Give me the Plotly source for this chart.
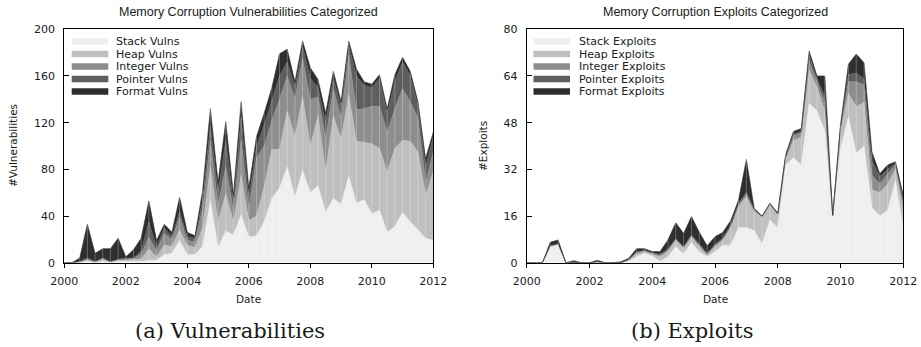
import plotly.graph_objects as go

# Quarterly time axis, 2000.00 .. 2012.00
quarters = [2000 + 0.25 * i for i in range(49)]

# Memory corruption vulnerabilities per quarter, by category
vuln_stack = [0, 0, 0, 1, 0, 1, 0, 1, 1, 1, 1, 2, 2, 7, 8, 19, 7, 7, 14, 53, 13, 27, 24, 41, 22,
              23, 35, 55, 64, 82, 56, 79, 60, 66, 43, 55, 50, 74, 51, 54, 42, 45, 26, 31, 43, 35, 28, 21, 19]
vuln_heap = [0, 0, 1, 2, 1, 2, 1, 1, 1, 2, 2, 10, 3, 8, 6, 9, 8, 6, 16, 29, 22, 32, 11, 34, 14,
             17, 30, 42, 33, 48, 52, 63, 40, 60, 35, 71, 56, 70, 53, 49, 60, 53, 52, 67, 62, 69, 67, 37, 59]
vuln_integer = [0, 0, 0, 0, 0, 1, 0, 1, 1, 1, 4, 10, 5, 10, 6, 11, 4, 5, 16, 22, 14, 23, 10, 30, 10,
                50, 35, 25, 43, 30, 32, 33, 40, 16, 28, 23, 18, 34, 27, 29, 32, 36, 34, 34, 44, 34, 29, 11, 17]
vuln_pointer = [0, 0, 0, 1, 0, 0, 0, 0, 1, 0, 3, 13, 3, 5, 2, 5, 3, 3, 8, 14, 11, 23, 7, 20, 9,
                10, 18, 16, 20, 12, 10, 10, 18, 8, 14, 9, 10, 8, 29, 20, 16, 24, 16, 23, 23, 22, 11, 13, 13]
vuln_format = [0, 0, 3, 29, 7, 8, 11, 18, 1, 7, 11, 18, 6, 3, 4, 12, 4, 2, 8, 14, 9, 16, 6, 13, 9,
               8, 10, 12, 19, 11, 5, 5, 9, 7, 8, 6, 4, 4, 6, 3, 3, 3, 4, 6, 4, 4, 3, 7, 4]

# Memory corruption exploits per quarter, by category
expl_stack = [0, 0, 0, 5.5, 6, 0, 0, 0, 0, 0, 0, 0, 0, 0.5, 2, 3.2, 2.3, 0.5, 2, 5.5, 3, 6.9, 3.8, 2, 3.8,
              6, 6, 12, 12, 11, 6.4, 14.6, 12, 33.5, 36, 33.5, 54.6, 52, 45, 15.5, 39, 50, 37.5, 40, 19, 16, 18, 28, 12]
expl_heap = [0, 0, 0, 0.3, 0.5, 0, 0, 0, 0, 0.3, 0, 0, 0, 0.4, 1, 0.6, 0.7, 1.5, 1.8, 2.3, 2, 2, 1.7, 0.6, 1.7,
             1.8, 6, 7.4, 10.6, 6.6, 9.2, 5.2, 4.4, 1.5, 6, 9.5, 11.4, 8, 7, 0.5, 6, 8, 16, 15, 6, 8, 9, 4, 6]
expl_integer = [0, 0, 0, 0, 0, 0, 0, 0, 0, 0, 0, 0, 0, 0.1, 0.5, 0.3, 0.2, 0.5, 0.5, 0.2, 0.3, 0.3, 0.5, 0.3, 0.5,
                0.3, 0.5, 0.5, 0.8, 0.3, 0.2, 0.2, 0.2, 1, 1.5, 1.5, 3, 2, 3, 0.1, 1, 4, 8.5, 6, 5, 3, 3.5, 1.5, 2]
expl_pointer = [0, 0, 0, 0, 0, 0, 0, 0, 0, 0, 0, 0, 0, 0.1, 0.2, 0.2, 0.2, 0.3, 0.5, 0.2, 0.2, 0.3, 0.3, 0.3, 0.3,
                0.3, 0.5, 0.4, 0.8, 0.3, 0.1, 0.2, 0.2, 0.5, 0.5, 0.5, 2, 1, 2, 0.1, 0.6, 2.5, 3, 2, 5, 2.5, 1.5, 0.5, 1.5]
expl_format = [0, 0, 0, 1.2, 1.3, 0, 0.7, 0, 0, 0.5, 0, 0, 0.3, 0.4, 1.1, 0.5, 0.4, 1, 3, 5.5, 4.5, 6.3, 4.1, 2.6, 2.6,
               2, 1.4, 1.2, 11.2, 0.4, 0.1, 0.2, 0.2, 0.5, 1, 1, 1.6, 1, 7, 0.1, 0.6, 3.5, 6.5, 5.5, 3, 1, 1.5, 0.6, 1.5]

vuln_names = ["Stack Vulns", "Heap Vulns", "Integer Vulns", "Pointer Vulns", "Format Vulns"]
expl_names = ["Stack Exploits", "Heap Exploits", "Integer Exploits", "Pointer Exploits", "Format Exploits"]
shades = ["#eeefee", "#bfbfbf", "#8e8e8e", "#5e5e5e", "#2e2e2e"]

W, H = 921, 347


def px(x):
    return x / W


def py(y):
    return 1 - y / H


fig = go.Figure()

panels = [
    ("x", "y", [vuln_stack, vuln_heap, vuln_integer, vuln_pointer, vuln_format], vuln_names, "v"),
    ("x2", "y2", [expl_stack, expl_heap, expl_integer, expl_pointer, expl_format], expl_names, "e"),
]
for xa, ya, series, names, grp in panels:
    for vals, name, col in zip(series, names, shades):
        fig.add_trace(go.Scatter(
            x=quarters, y=vals, name=name, xaxis=xa, yaxis=ya,
            mode="lines", stackgroup=grp, fillcolor=col,
            line=dict(color=col, width=0.6), showlegend=False, hoverinfo="skip",
        ))
    # faint seams at every quarter, from the baseline to the stacked total
    totals = [sum(v) for v in zip(*series)]
    sx, sy = [], []
    for t, tot in zip(quarters, totals):
        if tot > 0:
            sx += [t, t, None]
            sy += [0, tot, None]
    fig.add_trace(go.Scatter(x=sx, y=sy, xaxis=xa, yaxis=ya, mode="lines",
                             line=dict(color="rgba(255,255,255,0.35)", width=0.8),
                             showlegend=False, hoverinfo="skip"))

tick_font = dict(family="DejaVu Sans", size=11, color="#1a1a1a")
common_x = dict(range=[2000, 2012], tick0=2000, dtick=2, ticks="outside", ticklen=4,
                tickcolor="#000", showline=True, linecolor="#000", linewidth=1, mirror=True,
                showgrid=False, zeroline=False, tickfont=tick_font, ticklabelstandoff=4,
                automargin=False)
common_y = dict(ticks="inside", ticklen=5, tickcolor="#000", showline=True, linecolor="#000",
                linewidth=1, mirror=True, showgrid=False, zeroline=False, tickfont=tick_font,
                ticklabelstandoff=6, automargin=False)

fig.update_layout(
    width=W, height=H, margin=dict(l=0, r=0, t=0, b=0, pad=0, autoexpand=False),
    paper_bgcolor="white", plot_bgcolor="white", showlegend=False,
    xaxis=dict(domain=[px(64.3), px(433.3)], anchor="y", **common_x),
    yaxis=dict(domain=[py(262.7), py(29.3)], anchor="x", range=[0, 200], tick0=0, dtick=40, **common_y),
    xaxis2=dict(domain=[px(526.7), px(903.3)], anchor="y2", **common_x),
    yaxis2=dict(domain=[py(262.7), py(29.3)], anchor="x2", range=[0, 80], tick0=0, dtick=16, **common_y),
)

sans = "Liberation Sans, Arial, sans-serif"
ann = []


def text(x, y, s, size, family=sans, angle=0, xanchor="center"):
    ann.append(dict(x=px(x), y=py(y), xref="paper", yref="paper", text=s, showarrow=False,
                    xanchor=xanchor, yanchor="middle", textangle=angle, borderpad=0,
                    font=dict(family=family, size=size, color="#1a1a1a")))


# Panel titles
text(248.8, 12, "Memory Corruption Vulnerabilities Categorized", 12.5)
text(715, 12, "Memory Corruption Exploits Categorized", 12.5)
# Axis titles
text(248.8, 299, "Date", 10.5, family="DejaVu Sans")
text(715, 299, "Date", 10.5, family="DejaVu Sans")
text(13, 146, "#Vulnerabilities", 10.5, family="DejaVu Sans", angle=-90)
text(483, 146, "#Exploits", 10.5, family="DejaVu Sans", angle=-90)
# Sub-captions
text(230, 331, "(a) Vulnerabilities", 21, family="DejaVu Serif")
text(692, 331, "(b) Exploits", 21, family="DejaVu Serif")

# Legend keys
rows = [41.5, 54, 66.5, 79, 91.5]
shapes = []
for (sx0, sx1, tx, names) in [(71.7, 108.3, 115, vuln_names), (533.5, 570, 578, expl_names)]:
    for yy, name, col in zip(rows, names, shades):
        shapes.append(dict(type="rect", xref="paper", yref="paper",
                           x0=px(sx0), x1=px(sx1), y0=py(yy + 3.3), y1=py(yy - 3.3),
                           fillcolor=col, line=dict(width=0)))
        text(tx, yy, name, 11, family="DejaVu Sans", xanchor="left")

fig.update_layout(annotations=ann, shapes=shapes)
fig.write_html("out.html")
